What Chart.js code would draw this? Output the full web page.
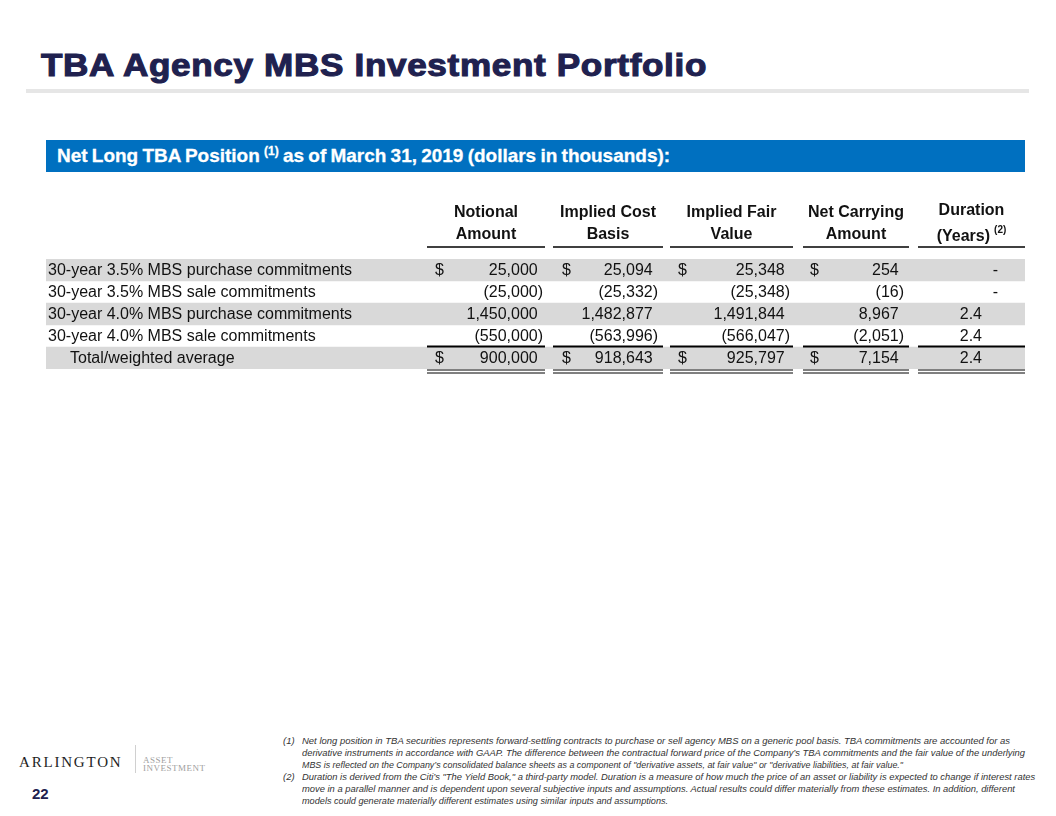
<!DOCTYPE html>
<html>
<head>
<meta charset="utf-8">
<title>TBA Agency MBS Investment Portfolio</title>
<script src="https://cdn.jsdelivr.net/npm/chart.js@4.4.1/dist/chart.umd.min.js"></script>
<style>
    body { margin: 0; background: #fff; }
    .page { position: relative; width: 1056px; height: 816px; overflow: hidden; font-family: "Liberation Sans", Arial, sans-serif; }
    .fit { position: absolute; white-space: nowrap; transform-origin: 0 50%; }
    .title { left: 41px; top: 48px; font-size: 32px; line-height: 34px; font-weight: bold; color: #20214f; -webkit-text-stroke: 1.1px #20214f; letter-spacing: 0.6px; }
    .rule { position: absolute; left: 26px; top: 89px; width: 1003px; height: 4px; background: #e6e6e6; }
    .banner { position: absolute; left: 46px; top: 140px; width: 979px; height: 32px; background: #0070c0; }
    .banner-text { left: 57px; top: 141px; color: #fff; font-weight: bold; font-size: 19px; line-height: 30px; word-spacing: -1px; -webkit-text-stroke: 0.3px #fff; }
    .banner-text sup { font-size: 12px; vertical-align: 7px; line-height: 0; }
    #tableCanvas { position: absolute; left: 0; top: 180px; }
    .logo-name { position: absolute; left: 19px; top: 755px; font-family: "Liberation Serif", "Times New Roman", serif; font-size: 15px; line-height: 15px; letter-spacing: 1.8px; color: #1e1e1e; white-space: nowrap; }
    .logo-bar { position: absolute; left: 135px; top: 745px; width: 1px; height: 28px; background: #d0d0d0; }
    .logo-sub { position: absolute; left: 143px; font-family: "Liberation Serif", "Times New Roman", serif; font-size: 9px; line-height: 9px; letter-spacing: 0.5px; color: #a0a0a0; white-space: nowrap; }
    .page-num { position: absolute; left: 32px; top: 786px; font-size: 15px; line-height: 15px; font-weight: bold; color: #20214f; }
    .fn { position: absolute; font-style: italic; font-size: 9.5px; line-height: 11px; color: #333; white-space: nowrap; transform-origin: 0 50%; }
</style>
</head>
<body>
<div class="page">
    <div class="fit title" data-width="666">TBA Agency MBS Investment Portfolio</div>
    <div class="rule"></div>
    <div class="banner"></div>
    <div class="fit banner-text" data-width="613">Net Long TBA Position <sup>(1)</sup> as of March 31, 2019 (dollars in thousands):</div>
    <canvas id="tableCanvas" width="1056" height="200"></canvas>

    <div class="logo-name">ARLINGTON</div>
    <div class="logo-bar"></div>
    <div class="logo-sub" style="top:756px">ASSET</div>
    <div class="logo-sub" style="top:764px">INVESTMENT</div>
    <div class="page-num">22</div>
    <div id="footnotes"></div>
</div>
<script>
// table data
const rowLabels = [
    '30-year 3.5% MBS purchase commitments',
    '30-year 3.5% MBS sale commitments',
    '30-year 4.0% MBS purchase commitments',
    '30-year 4.0% MBS sale commitments',
    'Total/weighted average'
];
const columnHeaders = [
    ['Notional', 'Amount'],
    ['Implied Cost', 'Basis'],
    ['Implied Fair', 'Value'],
    ['Net Carrying', 'Amount'],
    ['Duration', '(Years)']
];
const notionalAmount = [25000, -25000, 1450000, -550000, 900000];
const impliedCostBasis = [25094, -25332, 1482877, -563996, 918643];
const impliedFairValue = [25348, -25348, 1491844, -566047, 925797];
const netCarryingAmount = [254, -16, 8967, -2051, 7154];
const durationYears = [null, null, 2.4, 2.4, 2.4];
const dollarRows = [0, 4];
const shadedRows = [0, 2, 4];
const totalRow = 4;

const footnoteLines = [
    ['(1)', 'Net long position in TBA securities represents forward-settling contracts to purchase or sell agency MBS on a generic pool basis. TBA commitments  are accounted for as'],
    ['', 'derivative instruments  in accordance with GAAP.  The  difference between the contractual forward price of the Company\u2019s  TBA commitments  and the fair value of the underlying'],
    ['', 'MBS is reflected on the Company\u2019s  consolidated balance sheets as a component  of "derivative assets, at fair value" or "derivative liabilities, at fair value."'],
    ['(2)', 'Duration  is derived from  the Citi\u2019s "The  Yield Book," a third-party model.   Duration  is a measure  of how much  the price of an asset or liability is expected to change if interest rates'],
    ['', 'move  in a parallel manner  and is dependent  upon several subjective inputs and assumptions.   Actual results could differ materially  from these estimates.  In addition, different'],
    ['', 'models  could generate  materially  different estimates  using similar  inputs and assumptions.']
];

// layout (page pixels, x scale runs across the table width)
const TABLE_LEFT = 46;
const TABLE_RIGHT = 1025;
const COLUMN_LAYOUT = [
    { left: 427, right: 545, dollarX: 435, numRight: 543 },
    { left: 553, right: 663, dollarX: 562, numRight: 658 },
    { left: 670, right: 793, dollarX: 678, numRight: 790 },
    { left: 803, right: 909, dollarX: 810, numRight: 904 },
    { left: 918, right: 1025, numRight: 982, dashRight: 998 }
];
const FOOTNOTE_TOPS = [735, 747, 758.5, 770.5, 782.5, 794.5];
const FOOTNOTE_WIDTHS = [708, 723, 601, 733, 713, 366];

const BODY_FONT = '16px "Liberation Sans", Arial, sans-serif';
const HEAD_FONT = 'bold 16px "Liberation Sans", Arial, sans-serif';

function formatAccounting(v) {
    const s = Math.abs(v).toLocaleString('en-US');
    return v < 0 ? '(' + s + ')' : s;
}

const tableCellsPlugin = {
    id: 'tableCells',
    afterDatasetsDraw(chart) {
        const { ctx, chartArea, scales: { x, y } } = chart;
        const series = [notionalAmount, impliedCostBasis, impliedFairValue, netCarryingAmount, durationYears];
        const half = (y.getPixelForValue(1) - y.getPixelForValue(0)) / 2;

        ctx.save();
        ctx.fillStyle = '#111';
        ctx.textBaseline = 'middle';

        // body cells
        ctx.font = BODY_FONT;
        const parenW = ctx.measureText(')').width;
        rowLabels.forEach((label, i) => {
            const cy = y.getPixelForValue(i) + 1;
            ctx.textAlign = 'left';
            ctx.fillText(label, x.getPixelForValue(i === totalRow ? 70 : 48), cy);

            series.forEach((values, c) => {
                const col = COLUMN_LAYOUT[c];
                const v = values[i];
                if (c === 4) {
                    ctx.textAlign = 'right';
                    if (v === null) ctx.fillText('-', x.getPixelForValue(col.dashRight), cy);
                    else ctx.fillText(v.toFixed(1), x.getPixelForValue(col.numRight), cy);
                    return;
                }
                if (dollarRows.includes(i)) {
                    ctx.textAlign = 'left';
                    ctx.fillText('$', x.getPixelForValue(col.dollarX), cy);
                }
                ctx.textAlign = 'right';
                ctx.fillText(formatAccounting(v), x.getPixelForValue(col.numRight) - (v < 0 ? 0 : parenW), cy);
            });
        });

        // column headers
        const top = chartArea.top;
        ctx.font = HEAD_FONT;
        columnHeaders.forEach((lines, c) => {
            const col = COLUMN_LAYOUT[c];
            const cx = (x.getPixelForValue(col.left) + x.getPixelForValue(col.right)) / 2;
            const isDuration = c === 4;
            const y1 = top - (isDuration ? 48 : 46);
            const y2 = top - (isDuration ? 22 : 24);
            ctx.textAlign = 'center';
            ctx.fillText(lines[0], cx, y1);
            if (isDuration) {
                ctx.font = HEAD_FONT;
                const w1 = ctx.measureText(lines[1]).width;
                ctx.font = 'bold 10px "Liberation Sans", Arial, sans-serif';
                const w2 = ctx.measureText('(2)').width;
                const start = cx - (w1 + 4 + w2) / 2;
                ctx.textAlign = 'left';
                ctx.fillText('(2)', start + w1 + 4, y2 - 7);
                ctx.font = HEAD_FONT;
                ctx.fillText(lines[1], start, y2);
            } else {
                ctx.fillText(lines[1], cx, y2);
            }
        });

        // rules
        ctx.strokeStyle = '#000';
        const hline = (x0, x1, yy, w) => {
            ctx.lineWidth = w;
            ctx.beginPath();
            ctx.moveTo(x0, yy);
            ctx.lineTo(x1, yy);
            ctx.stroke();
        };
        const totalTop = y.getPixelForValue(totalRow) - half;
        const totalBottom = y.getPixelForValue(totalRow) + half;
        COLUMN_LAYOUT.forEach(col => {
            const x0 = x.getPixelForValue(col.left);
            const x1 = x.getPixelForValue(col.right);
            hline(x0, x1, top - 12, 1.3);
            hline(x0, x1, totalTop - 0.5, 2);
            hline(x0, x1, totalBottom + 1, 1);
            hline(x0, x1, totalBottom + 4, 1);
        });
        ctx.restore();
    }
};

new Chart(document.getElementById('tableCanvas'), {
    type: 'bar',
    data: {
        labels: rowLabels,
        datasets: [{
            data: rowLabels.map((_, i) => shadedRows.includes(i) ? [TABLE_LEFT, TABLE_RIGHT] : null),
            backgroundColor: '#d9d9d9',
            borderWidth: 0,
            borderSkipped: false,
            barPercentage: 1,
            categoryPercentage: 1
        }]
    },
    options: {
        indexAxis: 'y',
        responsive: false,
        devicePixelRatio: 1,
        animation: false,
        layout: { padding: { left: TABLE_LEFT, right: 1056 - TABLE_RIGHT, top: 79, bottom: 11 } },
        plugins: { legend: { display: false }, tooltip: { enabled: false } },
        scales: {
            x: { type: 'linear', min: TABLE_LEFT, max: TABLE_RIGHT, display: false },
            y: { type: 'category', display: false, offset: true }
        }
    },
    plugins: [tableCellsPlugin]
});

// stretch a line of text to the width it has in the slide
function fitWidth(el, target) {
    const w = el.getBoundingClientRect().width;
    if (w > 0) el.style.transform = 'scaleX(' + (target / w).toFixed(3) + ')';
}

document.querySelectorAll('.fit').forEach(el => fitWidth(el, +el.dataset.width));

const fnBox = document.getElementById('footnotes');
footnoteLines.forEach(([mark, text], i) => {
    if (mark) {
        const m = document.createElement('div');
        m.className = 'fn';
        m.style.left = '283px';
        m.style.top = FOOTNOTE_TOPS[i] + 'px';
        m.textContent = mark;
        fnBox.appendChild(m);
    }
    const line = document.createElement('div');
    line.className = 'fn';
    line.style.left = '302px';
    line.style.top = FOOTNOTE_TOPS[i] + 'px';
    line.textContent = text;
    fnBox.appendChild(line);
    fitWidth(line, FOOTNOTE_WIDTHS[i]);
});
</script>
</body>
</html>
